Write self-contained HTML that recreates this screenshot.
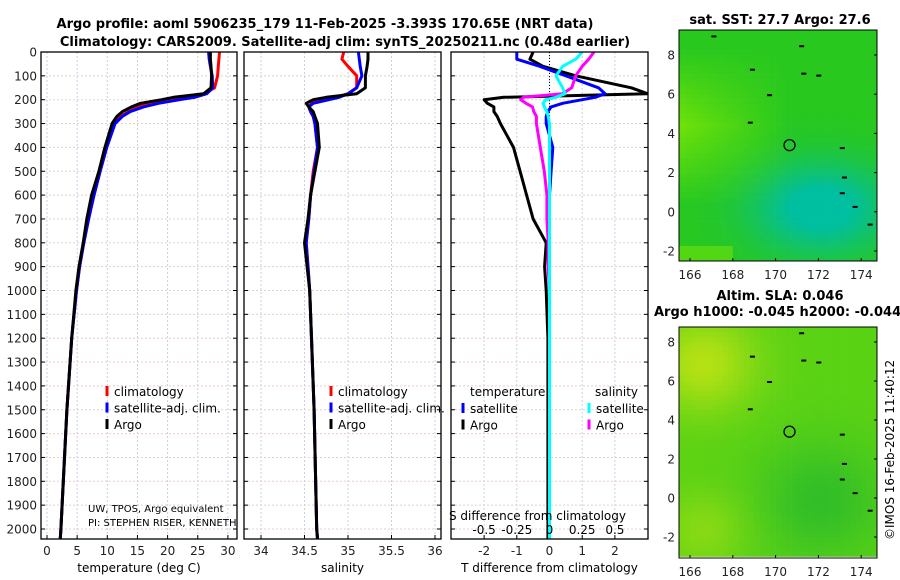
<!DOCTYPE html>
<html><head><meta charset="utf-8"><style>
body{margin:0;background:#fff}
svg{display:block;font-family:"DejaVu Sans","Liberation Sans",sans-serif}
</style></head><body>
<svg id="fig" width="900" height="580" viewBox="0 0 900 580">
<g font-weight="bold" font-size="13" text-anchor="middle">
<text x="325" y="28">Argo profile: aoml 5906235_179 11-Feb-2025 -3.393S 170.65E (NRT data)</text>
<text x="345" y="46">Climatology: CARS2009. Satellite-adj clim: synTS_20250211.nc (0.48d earlier)</text>
</g>
<g id="p1"></g>
<g id="p2"></g>
<g id="p3"></g>
<g id="m1"></g>
<g id="m2"></g>
<text x="780" y="24" font-weight="bold" font-size="13" text-anchor="middle">sat. SST: 27.7 Argo: 27.6</text>
<text x="780" y="300" font-weight="bold" font-size="13" text-anchor="middle">Altim. SLA: 0.046</text>
<text x="654" y="316" font-weight="bold" font-size="13">Argo h1000: -0.045 h2000: -0.044</text>
<text transform="translate(894,540) rotate(-90)" font-size="12">©IMOS 16-Feb-2025 11:40:12</text>
</svg>
<script>
// ---------- data ----------
const depthTicks=[0,100,200,300,400,500,600,700,800,900,1000,1100,1200,1300,1400,1500,1600,1700,1800,1900,2000];
const tempTicks=[0,5,10,15,20,25,30];
const salTicks=[34,34.5,35,35.5,36];
const tdiffTicks=[-2,-1,0,1,2];
const sdiffTicks=[-0.5,-0.25,0,0.25,0.5];
const depths=[0,30,60,100,150,175,190,200,215,230,250,270,300,400,500,600,700,800,900,1000,1200,1500,2000,2040];
const tempClim=[28.6,28.5,28.4,28.3,27.8,26,22,20,17,15,13.5,12.2,11.2,9.9,8.8,7.8,6.9,6.1,5.4,4.9,4.1,3.3,2.3,2.2];
const tempSat=[26.8,26.9,27.1,27.4,27.5,26.5,24.5,22,18.5,16,13.8,12.5,11.3,9.9,8.8,7.8,6.9,6.1,5.4,4.9,4.1,3.3,2.3,2.2];
const tempArgo=[27.1,27.1,27.2,27.3,27.2,26,21,19,15.5,14,12.5,11.6,10.8,9.6,8.6,7.4,6.6,6.0,5.3,4.8,4.1,3.3,2.3,2.2];
const salClim=[34.95,34.93,35.0,35.1,35.1,35.0,34.85,34.72,34.58,34.55,34.57,34.6,34.62,34.65,34.6,34.57,34.55,34.52,34.54,34.56,34.58,34.61,34.64,34.65];
const salSat=[35.12,35.13,35.14,35.16,35.1,35.0,34.9,34.78,34.6,34.55,34.57,34.6,34.62,34.65,34.61,34.57,34.55,34.52,34.54,34.56,34.58,34.61,34.64,34.65];
const salArgo=[35.23,35.23,35.22,35.2,35.2,35.1,34.75,34.6,34.52,34.55,34.6,34.62,34.65,34.67,34.62,34.57,34.54,34.5,34.53,34.56,34.58,34.61,34.64,34.65];
const tdiffArgo=[-0.5,-0.6,-0.2,0.8,2.5,3.0,-1.4,-2.0,-1.9,-1.7,-1.7,-1.6,-1.5,-1.1,-0.9,-0.7,-0.5,-0.1,-0.15,-0.1,-0.05,-0.05,-0.05,-0.05];
const tdiffSat=[-1.0,-1.0,-0.3,0.5,1.5,1.7,1.4,1.0,0.4,0.05,-0.05,-0.1,-0.1,0.1,0.05,0.0,0.0,0.0,0.0,0.0,0.0,0.0,0.0,0.0];
const sdiffArgo=[0.34,0.3,0.25,0.2,0.17,0.1,-0.2,-0.22,-0.18,-0.13,-0.12,-0.1,-0.1,-0.07,-0.04,-0.02,-0.02,-0.01,-0.01,0,0,0,0,0];
const sdiffSat=[0.25,0.2,0.1,0.05,0.1,0.12,0.05,-0.03,-0.05,-0.04,-0.02,-0.01,0,0,0,0,0,0,0,0,0,0,0,0];
const lonTicks=[166,168,170,172,174];
const latTicks=[-2,0,2,4,6,8];
const floatLon=[170.65];
const floatLat=[3.4];

// ---------- helpers ----------
const NS="http://www.w3.org/2000/svg";
function mk(parent,tag,attrs){const e=document.createElementNS(NS,tag);for(const k in attrs)e.setAttribute(k,attrs[k]);parent.appendChild(e);return e;}
const yD=d=>52+d*0.2385;
const yTop=52,yBot=539;
const FS=12;

function panel(g,x0,x1,xs,ticks,label,name){
  ticks.forEach(t=>{const l=mk(g,'line',{x1:xs(t),x2:xs(t),y1:yTop,y2:yBot,stroke:'#c8cde8','stroke-width':1,'stroke-dasharray':'2,2'});
    
    });
  depthTicks.forEach(d=>{const l=mk(g,'line',{x1:x0,x2:x1,y1:yD(d),y2:yD(d),stroke:'#e8cfc8','stroke-width':1,'stroke-dasharray':'2,2'});
    
    });
  ticks.forEach(t=>{
    const tk=mk(g,'line',{x1:xs(t),x2:xs(t),y1:yBot,y2:yBot-4,stroke:'#000'});
    
    
    const tx=mk(g,'text',{x:xs(t),y:yBot+16,'font-size':FS,'text-anchor':'middle',fill:'#222'});tx.textContent=t;
    
    
  });
  depthTicks.forEach(d=>{
    mk(g,'line',{x1:x0,x2:x0+4,y1:yD(d),y2:yD(d),stroke:'#000'});
    mk(g,'line',{x1:x1,x2:x1-4,y1:yD(d),y2:yD(d),stroke:'#000'});
  });
  const lab=mk(g,'text',{x:(x0+x1)/2,y:572,'font-size':FS,'text-anchor':'middle'});lab.textContent=label;
  
  
}
function frame(g,x0,x1,name){const r=mk(g,'rect',{x:x0,y:yTop,width:x1-x0,height:yBot-yTop,fill:'none',stroke:'#000','stroke-width':1.3});
  
  }
function series(g,xs,vals,color,name,clip){
  const d=vals.map((v,i)=>(i?'L':'M')+xs(v).toFixed(1)+','+yD(depths[i]).toFixed(1)).join('');
  const p=mk(g,'path',{d:d,fill:'none',stroke:color,'stroke-width':3,'stroke-linejoin':'round','clip-path':'url(#'+clip+')'});
  
  
}
function legend(g,x,y,items){
  items.forEach((it,i)=>{
    const yy=y+i*16.5;
    const m=mk(g,'line',{x1:x,x2:x,y1:yy-6,y2:yy+4,stroke:it[1],'stroke-width':3});
    
    
    const t=mk(g,'text',{x:x+7,y:yy+4,'font-size':FS});t.textContent=it[0];
    
    
  });
}
const svg=document.getElementById('fig');
const defs=mk(svg,'defs',{});
[['c1',41,237],['c2',244,441],['c3',451,648]].forEach(c=>{const cp=mk(defs,'clipPath',{id:c[0]});mk(cp,'rect',{x:c[1],y:yTop,width:c[2]-c[1],height:yBot-yTop});});
[['cm1',30],['cm2',327]].forEach(c=>{const cp=mk(defs,'clipPath',{id:c[0]});mk(cp,'rect',{x:679,y:c[1],width:198,height:231});});

// ---------- panel 1 ----------
const xT=t=>47+t*6.03;
const p1=document.getElementById('p1');
panel(p1,41,237,xT,tempTicks,'temperature (deg C)','temperature');
depthTicks.forEach(d=>{const t=mk(p1,'text',{x:37,y:yD(d)+4.5,'font-size':FS,'text-anchor':'end',fill:'#222'});t.textContent=d;
  
  });
series(p1,xT,tempClim,'#f00','temp-climatology-line','c1');
series(p1,xT,tempSat,'#00f','temp-satellite-line','c1');
series(p1,xT,tempArgo,'#000','temp-argo-line','c1');
legend(p1,107,392,[['climatology','#f00'],['satellite-adj. clim.','#00f'],['Argo','#000']]);
const g1=mk(p1,'g',{'clip-path':'url(#c1)','font-size':10});
let a=mk(g1,'text',{x:88,y:512});a.textContent='UW, TPOS, Argo equivalent';


a=mk(g1,'text',{x:88,y:526});a.textContent='PI: STEPHEN RISER, KENNETH JOHNSON';


frame(p1,41,237,'temperature');

// ---------- panel 2 ----------
const xS=s=>261+(s-34)*87;
const p2=document.getElementById('p2');
panel(p2,244,441,xS,salTicks,'salinity','salinity');
series(p2,xS,salClim,'#f00','sal-climatology-line','c2');
series(p2,xS,salSat,'#00f','sal-satellite-line','c2');
series(p2,xS,salArgo,'#000','sal-argo-line','c2');
legend(p2,331,392,[['climatology','#f00'],['satellite-adj. clim.','#00f'],['Argo','#000']]);
frame(p2,244,441,'salinity');

// ---------- panel 3 ----------
const xTd=v=>549.5+v*32.7;
const xSd=v=>549.5+v*130.8;
const p3=document.getElementById('p3');
panel(p3,451,648,xTd,tdiffTicks,'T difference from climatology','t-difference');
mk(p3,'line',{x1:549.5,x2:549.5,y1:yTop,y2:yBot,stroke:'#000','stroke-dasharray':'1,2'});
series(p3,xTd,tdiffArgo,'#000','tdiff-argo-line','c3');
series(p3,xTd,tdiffSat,'#00f','tdiff-satellite-line','c3');
series(p3,xSd,sdiffArgo,'#f0f','sdiff-argo-line','c3');
series(p3,xSd,sdiffSat,'#0ff','sdiff-satellite-line','c3');
a=mk(p3,'text',{x:470,y:396,'font-size':FS});a.textContent='temperature';


a=mk(p3,'text',{x:595,y:396,'font-size':FS});a.textContent='salinity';


legend(p3,463,409,[['satellite','#00f'],['Argo','#000']]);
legend(p3,589,409,[['satellite','#0ff'],['Argo','#f0f']]);
a=mk(p3,'text',{x:449,y:520,'font-size':FS});a.textContent='S difference from climatology';


sdiffTicks.forEach(s=>{const t=mk(p3,'text',{x:xSd(s),y:534,'font-size':FS,'text-anchor':'middle'});t.textContent=String(s);
  
  });
frame(p3,451,648,'difference');

// ---------- maps ----------
function map(g,y0,latY,colorFn,name,clip){
  const x0=679,x1=877,y1=y0+231;
  const lonX=l=>690+(l-166)*21.4;
  const cg=mk(g,'g',{'clip-path':'url(#'+clip+')'});
  for(let lo=165.5;lo<175.75;lo+=0.25){for(let la=9.5;la>-2.8;la-=0.25){
    mk(cg,'rect',{x:lonX(lo).toFixed(1),y:latY(la).toFixed(1),width:5.6,height:5.2,fill:colorFn(lo,la)});
  }}
  [[171.1,8.5],[171.2,7.1],[171.9,7.0],[169.6,6.0],[168.7,4.6],[173.0,3.3],[173.1,1.8],[173.0,1.0],[173.6,0.3],[174.3,-0.6],[174.9,-1.4],[175.4,-1.9],[168.8,7.3],[167.0,9.0]].forEach(p=>{
    mk(cg,'rect',{x:lonX(p[0]),y:latY(p[1]),width:5,height:2,fill:'#000'});});
  const f=mk(g,'rect',{x:x0,y:y0,width:x1-x0,height:y1-y0,fill:'none',stroke:'#000'});
  
  
  lonTicks.forEach(l=>{mk(g,'line',{x1:lonX(l),x2:lonX(l),y1:y1,y2:y1-3,stroke:'#000'});
    const t=mk(g,'text',{x:lonX(l),y:y1+18,'font-size':FS,'text-anchor':'middle',fill:'#222'});t.textContent=l;
    
    });
  latTicks.forEach(l=>{mk(g,'line',{x1:x1,x2:x1-3,y1:latY(l),y2:latY(l),stroke:'#000'});
    const t=mk(g,'text',{x:675,y:latY(l)+4.5,'font-size':FS,'text-anchor':'end',fill:'#222'});t.textContent=l;
    
    });
  const c=mk(g,'circle',{cx:lonX(floatLon[0]),cy:latY(floatLat[0]),r:5.5,fill:'none',stroke:'#000','stroke-width':1.3});
  
  
}
function mixA(c1,c2,t){t=Math.max(0,Math.min(1,t));return c1.map((v,i)=>Math.round(v+(c2[i]-v)*t));}
const rgb=c=>'rgb('+c.join(',')+')';
const lat1=l=>55+(8-l)*19.6;
map(document.getElementById('m1'),30,lat1,(lo,la)=>{
  const teal=Math.exp(-(((lo-172)/3.2)**2+((la-0.3)/2.3)**2));
  const yel=Math.max(0,(4.5-(lo-166))/5)*Math.max(0,1-Math.abs(la-4.5)/4)+(la<-1.5&&lo<168?0.6:0);
  let c=mixA([40,200,30],[0,190,160],teal*1.2);
  c=mixA(c,[110,225,10],yel);
  return rgb(c);},'sst-map','cm1');
const lat2=l=>342+(8-l)*19.5;
map(document.getElementById('m2'),327,lat2,(lo,la)=>{
  const yel=Math.exp(-(((lo-166.5)/2.5)**2+((la-7)/2.5)**2))+0.5*Math.exp(-(((lo-166.5)/2)**2+((la+1.5)/2)**2));
  const dk=Math.exp(-(((lo-172)/3)**2+((la-0)/3)**2));
  let c=mixA([90,210,20],[50,190,40],dk);
  return rgb(mixA(c,[180,225,20],yel));},'sla-map','cm2');
</script>
</body></html>
